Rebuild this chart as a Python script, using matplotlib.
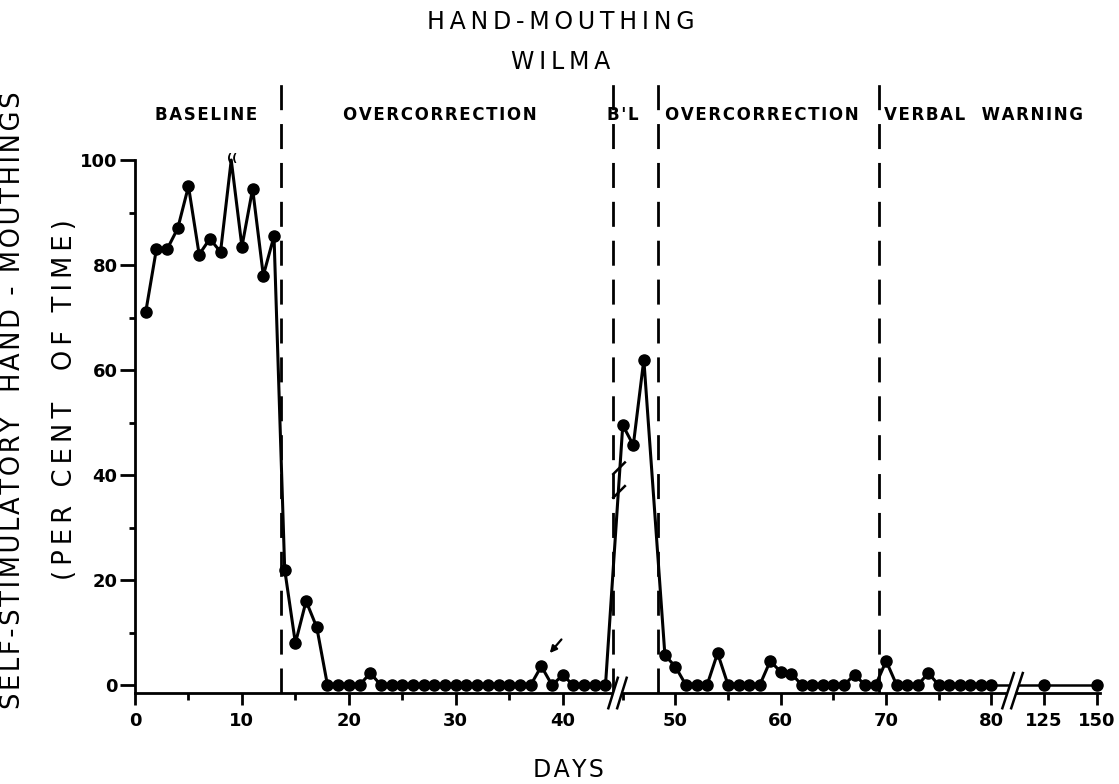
import matplotlib.pyplot as plt
import matplotlib.patches as mpatches
import numpy as np

# per cent of time
baseline_days = list(range(1, 14))
baseline_vals = [71, 83, 83, 87, 95, 82, 85, 82.5, 100, 83.5, 94.5, 78, 85.5]

oc1_days = list(range(14, 45))
oc1_vals = [22, 8, 16, 11, 0, 0, 0, 0, 2.3] + [0] * 15 + [3.6, 0, 1.9, 0, 0, 0, 0]

bl_days = [45, 46, 47]
bl_vals = [49.5, 45.7, 62]

oc2_days = list(range(49, 70))
oc2_vals = [5.7, 3.5, 0, 0, 0, 6.1, 0, 0, 0, 0, 4.6, 2.5, 2.2, 0, 0, 0, 0, 0, 2, 0, 0]

vw_days = list(range(70, 81))
vw_vals = [4.6, 0, 0, 0, 2.3, 0, 0, 0, 0, 0, 0]

fu_days = [125, 150]
fu_vals = [0, 0]

phase_change_days = [13.65, 44.7, 48.3, 69.35]
phase_names = ["BASELINE", "OVERCORRECTION", "B'L", "OVERCORRECTION", "VERBAL  WARNING"]
phase_label_x = [206, 440, 623, 762, 983]   # pixel centres

major_days = [0, 10, 20, 30, 40, 50, 60, 70, 80, 125, 150]
minor_days = [5, 15, 25, 35, 45, 55, 65, 75]


def day_pos(d):
    # broken axis: slightly stretched before the break, shifted after, squeezed follow-up
    d = np.asarray(d, dtype=float)
    return np.where(d <= 44.8, d * 1.015,
                    np.where(d <= 80, d + 1.3, 86.3 + (d - 125) * 0.2))


def spaced(s, sep='\u200a'):
    # letter spacing like the typeset original
    return sep.join(s)


W, H = 1119, 784
fig = plt.figure(figsize=(W / 100, H / 100), dpi=100)
ax = fig.add_axes([135 / W, 1 - 693 / H, 965 / W, 533 / H])
ax.set_xlim(0, 91.6)
ax.set_ylim(-1.5, 100)

main_days = baseline_days + oc1_days + bl_days + oc2_days + vw_days
main_vals = baseline_vals + oc1_vals + bl_vals + oc2_vals + vw_vals
x_main = day_pos(main_days)
ax.plot(x_main, main_vals, color='black', lw=2.2, zorder=3, clip_on=False)
keep = [i for i, d in enumerate(main_days) if d != 9]
ax.plot(x_main[keep], np.array(main_vals)[keep], 'o', color='black', ms=8,
        zorder=3, clip_on=False)
ax.text(day_pos(9) + 0.1, 100.3, "((", fontsize=8, ha='center', va='center',
        fontweight='bold')

# follow-up: connect day 80 to 125 and 150
x_fu = day_pos([80] + fu_days)
ax.plot(x_fu, [vw_vals[-1]] + fu_vals, color='black', lw=1.8, zorder=3, clip_on=False)
ax.plot(day_pos(fu_days), fu_vals, 'o', color='black', ms=8, zorder=3, clip_on=False)

# phase lines
for d in phase_change_days:
    ax.plot([day_pos(d)] * 2, [-1.5, 114.5], color='black', lw=2,
            ls=(0, (9, 5)), clip_on=False, zorder=2)

# axis breaks
def axis_break(c, y0, y1, dx, gap):
    poly = mpatches.Polygon([(c - gap - dx, y0), (c + gap - dx, y0),
                             (c + gap + dx, y1), (c - gap + dx, y1)],
                            closed=True, facecolor='white', edgecolor='none',
                            zorder=4, clip_on=False)
    ax.add_patch(poly)
    for s in (-gap, gap):
        ax.plot([c + s - dx, c + s + dx], [y0, y1], color='black', lw=1.8,
                zorder=5, clip_on=False)

axis_break(45.8, -4.4, 1.4, 0.45, 0.42)
axis_break(83.3, -4.4, 2.3, 0.55, 0.42)
# break mark on the rising B'L line
for yy in (36.8, 41.3):
    ax.plot([45.95 - 0.55, 45.95 + 0.55], [yy - 1.1, yy + 1.1], color='black',
            lw=1.8, zorder=5, clip_on=False)

# arrow to day 38
ax.annotate("", xy=(39.2, 5.7), xytext=(40.65, 9.1),
            arrowprops=dict(arrowstyle='-|>', color='black', lw=1.6,
                            mutation_scale=10), zorder=5)

# axes styling
for s in ('top', 'right'):
    ax.spines[s].set_visible(False)
for s in ('left', 'bottom'):
    ax.spines[s].set_linewidth(2)
ax.set_yticks([0, 20, 40, 60, 80, 100])
ax.set_yticks([10, 30, 50, 70, 90], minor=True)
ax.set_xticks(day_pos(major_days))
ax.set_xticklabels([str(d) for d in major_days])
ax.set_xticks(day_pos(minor_days), minor=True)
ax.tick_params(axis='y', which='major', direction='out', length=10.5, width=2,
               pad=2, labelsize=13)
ax.tick_params(axis='y', which='minor', direction='out', length=4, width=2)
ax.tick_params(axis='x', which='major', direction='out', length=8.5, width=2,
               pad=5, labelsize=13)
ax.tick_params(axis='x', which='minor', direction='out', length=5, width=2)
for lab in ax.get_xticklabels() + ax.get_yticklabels():
    lab.set_fontweight('bold')

# titles and labels
fig.text(561 / W, 1 - 22 / H, spaced("HAND-MOUTHING", '\u2009'), fontsize=17,
         ha='center', va='center')
fig.text(561 / W, 1 - 62 / H, spaced("WILMA", '\u2009'), fontsize=17,
         ha='center', va='center')
for name, px in zip(phase_names, phase_label_x):
    fig.text(px / W, 1 - 115 / H, spaced(name), fontsize=12, fontweight='bold',
             ha='center', va='center')
fig.text(568 / W, 1 - 770 / H, spaced("DAYS"), fontsize=17, ha='center', va='center')
fig.text(13 / W, 1 - 400 / H, spaced("SELF-STIMULATORY  HAND - MOUTHINGS"),
         fontsize=18.5, rotation=90, ha='center', va='center')
fig.text(65 / W, 1 - 400 / H, spaced("(PER CENT  OF TIME)", '\u2009'),
         fontsize=18.5, rotation=90, ha='center', va='center')

fig.savefig("out.png", dpi=100)
